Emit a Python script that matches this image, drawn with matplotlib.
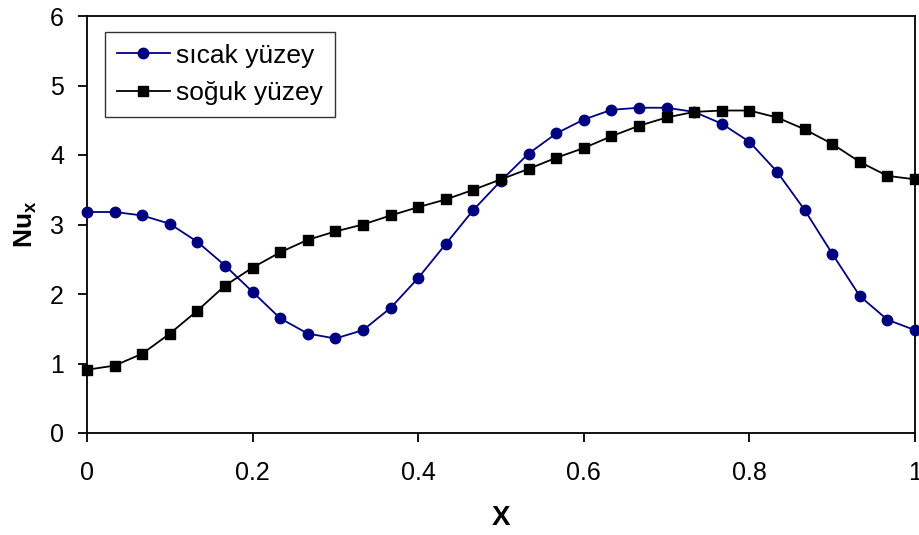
import matplotlib
matplotlib.use("Agg")
import matplotlib.pyplot as plt

plt.rcParams['font.family'] = ['Liberation Sans', 'DejaVu Sans']

# X konumları (31 nokta, 0..1)
x_values = [i / 30 for i in range(31)]

# sıcak yüzey (hot surface) Nu_x
sicak = [3.18, 3.18, 3.13, 3.01, 2.75, 2.41, 2.03, 1.65, 1.43, 1.36,
         1.48, 1.80, 2.23, 2.72, 3.21, 3.63, 4.02, 4.31, 4.51, 4.65,
         4.68, 4.68, 4.62, 4.45, 4.19, 3.76, 3.21, 2.58, 1.97, 1.63,
         1.48]

# soğuk yüzey (cold surface) Nu_x
soguk = [0.91, 0.97, 1.14, 1.43, 1.76, 2.12, 2.38, 2.60, 2.78, 2.90,
         3.00, 3.13, 3.25, 3.36, 3.50, 3.65, 3.80, 3.96, 4.10, 4.27,
         4.42, 4.54, 4.62, 4.64, 4.64, 4.54, 4.37, 4.16, 3.90, 3.70,
         3.65]

x_ticks = [0, 0.2, 0.4, 0.6, 0.8, 1]
x_tick_labels = ['0', '0.2', '0.4', '0.6', '0.8', '1']
y_ticks = [0, 1, 2, 3, 4, 5, 6]

fig = plt.figure(figsize=(9.2, 5.35), dpi=100)
ax = fig.add_axes([87 / 920, 1 - 433 / 535, 828 / 920, 417 / 535])

ax.plot(x_values, sicak, color='#000080', marker='o', markersize=7.5,
        linewidth=1.3, label='sıcak yüzey', clip_on=False, zorder=3)
ax.plot(x_values, soguk, color='black', marker='s', markersize=7,
        linewidth=1.3, label='soğuk yüzey', clip_on=False, zorder=3)

ax.set_xlim(0, 1)
ax.set_ylim(0, 6)
ax.set_xticks(x_ticks)
ax.set_xticklabels(x_tick_labels)
ax.set_yticks(y_ticks)
ax.tick_params(direction='out', length=6.5, width=1.3, labelsize=18,
               top=False, right=False)
ax.tick_params(axis='x', pad=14)
ax.tick_params(axis='y', pad=10)
for sp in ax.spines.values():
    sp.set_linewidth(1.3)

ax.set_xlabel('X', fontsize=20, fontweight='bold', labelpad=14)
ax.set_ylabel(r'Nu$_\mathregular{x}$', fontsize=19, fontweight='bold', labelpad=8)

leg = ax.legend(loc='upper left', bbox_to_anchor=(0.022, 0.962), fontsize=19,
                frameon=True, fancybox=False, edgecolor='black',
                handlelength=2.0, borderpad=0.45, labelspacing=0.5,
                handletextpad=0.25, borderaxespad=0)
leg.get_frame().set_linewidth(1.0)

fig.savefig('out.png', dpi=100)
